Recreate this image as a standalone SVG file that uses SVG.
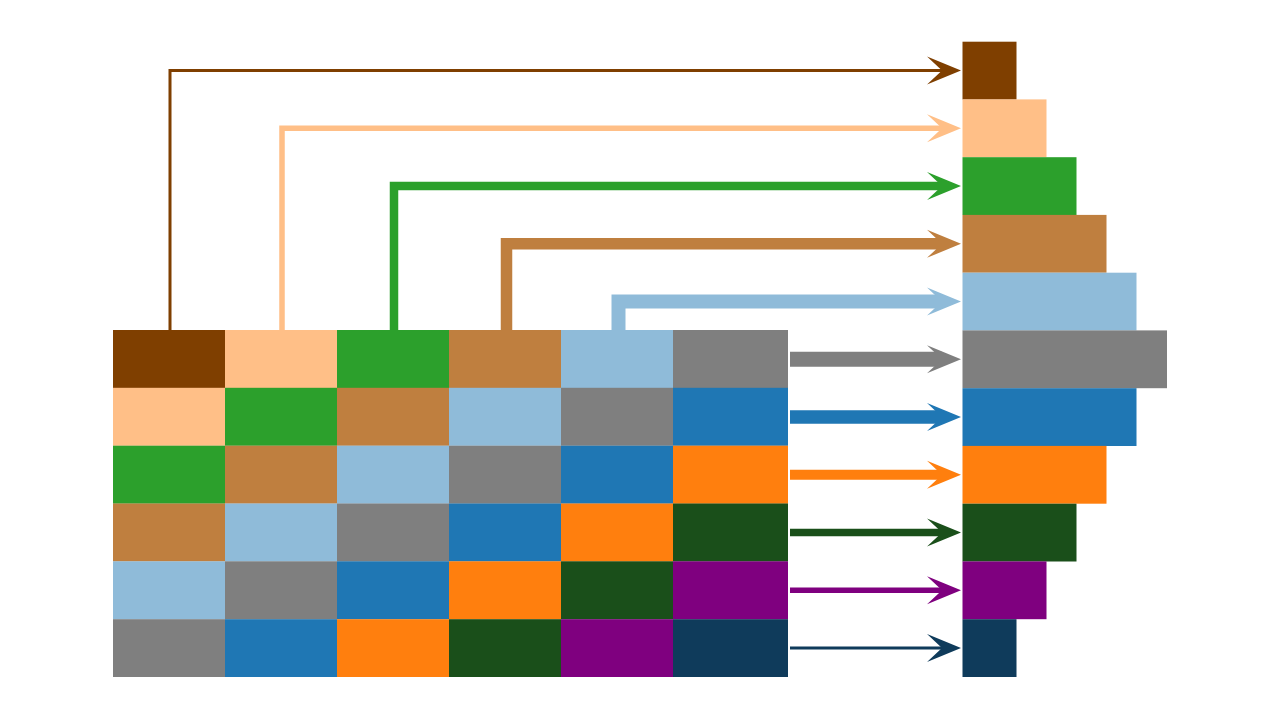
<svg xmlns="http://www.w3.org/2000/svg" width="1280" height="720" viewBox="0 0 1280 720">
<defs>
<style>
.c0{fill:#7f3f00}.c1{fill:#ffbf87}.c2{fill:#2ca02c}.c3{fill:#bf7f3f}.c4{fill:#8fbbd9}.c5{fill:#7f7f7f}
.c6{fill:#1f77b4}.c7{fill:#ff7f0e}.c8{fill:#1a4f1a}.c9{fill:#7f007f}.c10{fill:#0f3b5b}
.l{fill:none;stroke-linejoin:miter;stroke-linecap:butt}
</style>
<marker id="m0" markerUnits="userSpaceOnUse" markerWidth="34" markerHeight="28" refX="15" refY="14" orient="auto" overflow="visible"><path d="M0,0 L34,14 L0,28 L15,14 Z" fill="#7f3f00"/></marker>
<marker id="m1" markerUnits="userSpaceOnUse" markerWidth="34" markerHeight="28" refX="15" refY="14" orient="auto" overflow="visible"><path d="M0,0 L34,14 L0,28 L15,14 Z" fill="#ffbf87"/></marker>
<marker id="m2" markerUnits="userSpaceOnUse" markerWidth="34" markerHeight="28" refX="15" refY="14" orient="auto" overflow="visible"><path d="M0,0 L34,14 L0,28 L15,14 Z" fill="#2ca02c"/></marker>
<marker id="m3" markerUnits="userSpaceOnUse" markerWidth="34" markerHeight="28" refX="15" refY="14" orient="auto" overflow="visible"><path d="M0,0 L34,14 L0,28 L15,14 Z" fill="#bf7f3f"/></marker>
<marker id="m4" markerUnits="userSpaceOnUse" markerWidth="34" markerHeight="28" refX="15" refY="14" orient="auto" overflow="visible"><path d="M0,0 L34,14 L0,28 L15,14 Z" fill="#8fbbd9"/></marker>
<marker id="m5" markerUnits="userSpaceOnUse" markerWidth="34" markerHeight="28" refX="15" refY="14" orient="auto" overflow="visible"><path d="M0,0 L34,14 L0,28 L15,14 Z" fill="#7f7f7f"/></marker>
<marker id="m6" markerUnits="userSpaceOnUse" markerWidth="34" markerHeight="28" refX="15" refY="14" orient="auto" overflow="visible"><path d="M0,0 L34,14 L0,28 L15,14 Z" fill="#1f77b4"/></marker>
<marker id="m7" markerUnits="userSpaceOnUse" markerWidth="34" markerHeight="28" refX="15" refY="14" orient="auto" overflow="visible"><path d="M0,0 L34,14 L0,28 L15,14 Z" fill="#ff7f0e"/></marker>
<marker id="m8" markerUnits="userSpaceOnUse" markerWidth="34" markerHeight="28" refX="15" refY="14" orient="auto" overflow="visible"><path d="M0,0 L34,14 L0,28 L15,14 Z" fill="#1a4f1a"/></marker>
<marker id="m9" markerUnits="userSpaceOnUse" markerWidth="34" markerHeight="28" refX="15" refY="14" orient="auto" overflow="visible"><path d="M0,0 L34,14 L0,28 L15,14 Z" fill="#7f007f"/></marker>
<marker id="m10" markerUnits="userSpaceOnUse" markerWidth="34" markerHeight="28" refX="15" refY="14" orient="auto" overflow="visible"><path d="M0,0 L34,14 L0,28 L15,14 Z" fill="#0f3b5b"/></marker>
</defs>
<rect width="1280" height="720" fill="#ffffff"/>

<g id="grid">
<g id="row0">
<rect class="c0" x="113" y="330" width="112" height="58"/>
<rect class="c1" x="225" y="330" width="112" height="58"/>
<rect class="c2" x="337" y="330" width="112" height="58"/>
<rect class="c3" x="449" y="330" width="112" height="58"/>
<rect class="c4" x="561" y="330" width="112" height="58"/>
<rect class="c5" x="673" y="330" width="115" height="58"/>
</g>
<g id="row1">
<rect class="c1" x="113" y="387.8" width="112" height="58"/>
<rect class="c2" x="225" y="387.8" width="112" height="58"/>
<rect class="c3" x="337" y="387.8" width="112" height="58"/>
<rect class="c4" x="449" y="387.8" width="112" height="58"/>
<rect class="c5" x="561" y="387.8" width="112" height="58"/>
<rect class="c6" x="673" y="387.8" width="115" height="58"/>
</g>
<g id="row2">
<rect class="c2" x="113" y="445.7" width="112" height="58"/>
<rect class="c3" x="225" y="445.7" width="112" height="58"/>
<rect class="c4" x="337" y="445.7" width="112" height="58"/>
<rect class="c5" x="449" y="445.7" width="112" height="58"/>
<rect class="c6" x="561" y="445.7" width="112" height="58"/>
<rect class="c7" x="673" y="445.7" width="115" height="58"/>
</g>
<g id="row3">
<rect class="c3" x="113" y="503.5" width="112" height="58"/>
<rect class="c4" x="225" y="503.5" width="112" height="58"/>
<rect class="c5" x="337" y="503.5" width="112" height="58"/>
<rect class="c6" x="449" y="503.5" width="112" height="58"/>
<rect class="c7" x="561" y="503.5" width="112" height="58"/>
<rect class="c8" x="673" y="503.5" width="115" height="58"/>
</g>
<g id="row4">
<rect class="c4" x="113" y="561.3" width="112" height="58"/>
<rect class="c5" x="225" y="561.3" width="112" height="58"/>
<rect class="c6" x="337" y="561.3" width="112" height="58"/>
<rect class="c7" x="449" y="561.3" width="112" height="58"/>
<rect class="c8" x="561" y="561.3" width="112" height="58"/>
<rect class="c9" x="673" y="561.3" width="115" height="58"/>
</g>
<g id="row5">
<rect class="c5" x="113" y="619.2" width="112" height="57.8"/>
<rect class="c6" x="225" y="619.2" width="112" height="57.8"/>
<rect class="c7" x="337" y="619.2" width="112" height="57.8"/>
<rect class="c8" x="449" y="619.2" width="112" height="57.8"/>
<rect class="c9" x="561" y="619.2" width="112" height="57.8"/>
<rect class="c10" x="673" y="619.2" width="115" height="57.8"/>
</g>
</g>

<g id="bars">
<rect id="bar0" class="c0" x="962.5" y="41.7" width="54" height="57.8"/>
<rect id="bar1" class="c1" x="962.5" y="99.4" width="84" height="57.8"/>
<rect id="bar2" class="c2" x="962.5" y="157.2" width="114" height="57.8"/>
<rect id="bar3" class="c3" x="962.5" y="214.9" width="144" height="57.8"/>
<rect id="bar4" class="c4" x="962.5" y="272.7" width="174" height="57.8"/>
<rect id="bar5" class="c5" x="962.5" y="330.4" width="204.5" height="57.8"/>
<rect id="bar6" class="c6" x="962.5" y="388.2" width="174" height="57.8"/>
<rect id="bar7" class="c7" x="962.5" y="445.9" width="144" height="57.8"/>
<rect id="bar8" class="c8" x="962.5" y="503.7" width="114" height="57.8"/>
<rect id="bar9" class="c9" x="962.5" y="561.4" width="84" height="57.8"/>
<rect id="bar10" class="c10" x="962.5" y="619.2" width="54" height="57.8"/>
</g>

<g id="connectors">
<path class="l" d="M170,330 V70.6 H942" stroke="#7f3f00" stroke-width="3" marker-end="url(#m0)"/>
<path class="l" d="M282,330 V128.3 H942" stroke="#ffbf87" stroke-width="5.5" marker-end="url(#m1)"/>
<path class="l" d="M394,330 V186.1 H942" stroke="#2ca02c" stroke-width="8.5" marker-end="url(#m2)"/>
<path class="l" d="M506.5,330 V243.8 H942" stroke="#bf7f3f" stroke-width="11.5" marker-end="url(#m3)"/>
<path class="l" d="M618.5,330 V301.6 H942" stroke="#8fbbd9" stroke-width="14" marker-end="url(#m4)"/>
<path class="l" d="M790,359.3 H942" stroke="#7f7f7f" stroke-width="15" marker-end="url(#m5)"/>
<path class="l" d="M790,417.1 H942" stroke="#1f77b4" stroke-width="13.5" marker-end="url(#m6)"/>
<path class="l" d="M790,474.8 H942" stroke="#ff7f0e" stroke-width="10" marker-end="url(#m7)"/>
<path class="l" d="M790,532.6 H942" stroke="#1a4f1a" stroke-width="7.5" marker-end="url(#m8)"/>
<path class="l" d="M790,590.3 H942" stroke="#7f007f" stroke-width="5.5" marker-end="url(#m9)"/>
<path class="l" d="M790,648.1 H942" stroke="#0f3b5b" stroke-width="3" marker-end="url(#m10)"/>
</g>
</svg>
